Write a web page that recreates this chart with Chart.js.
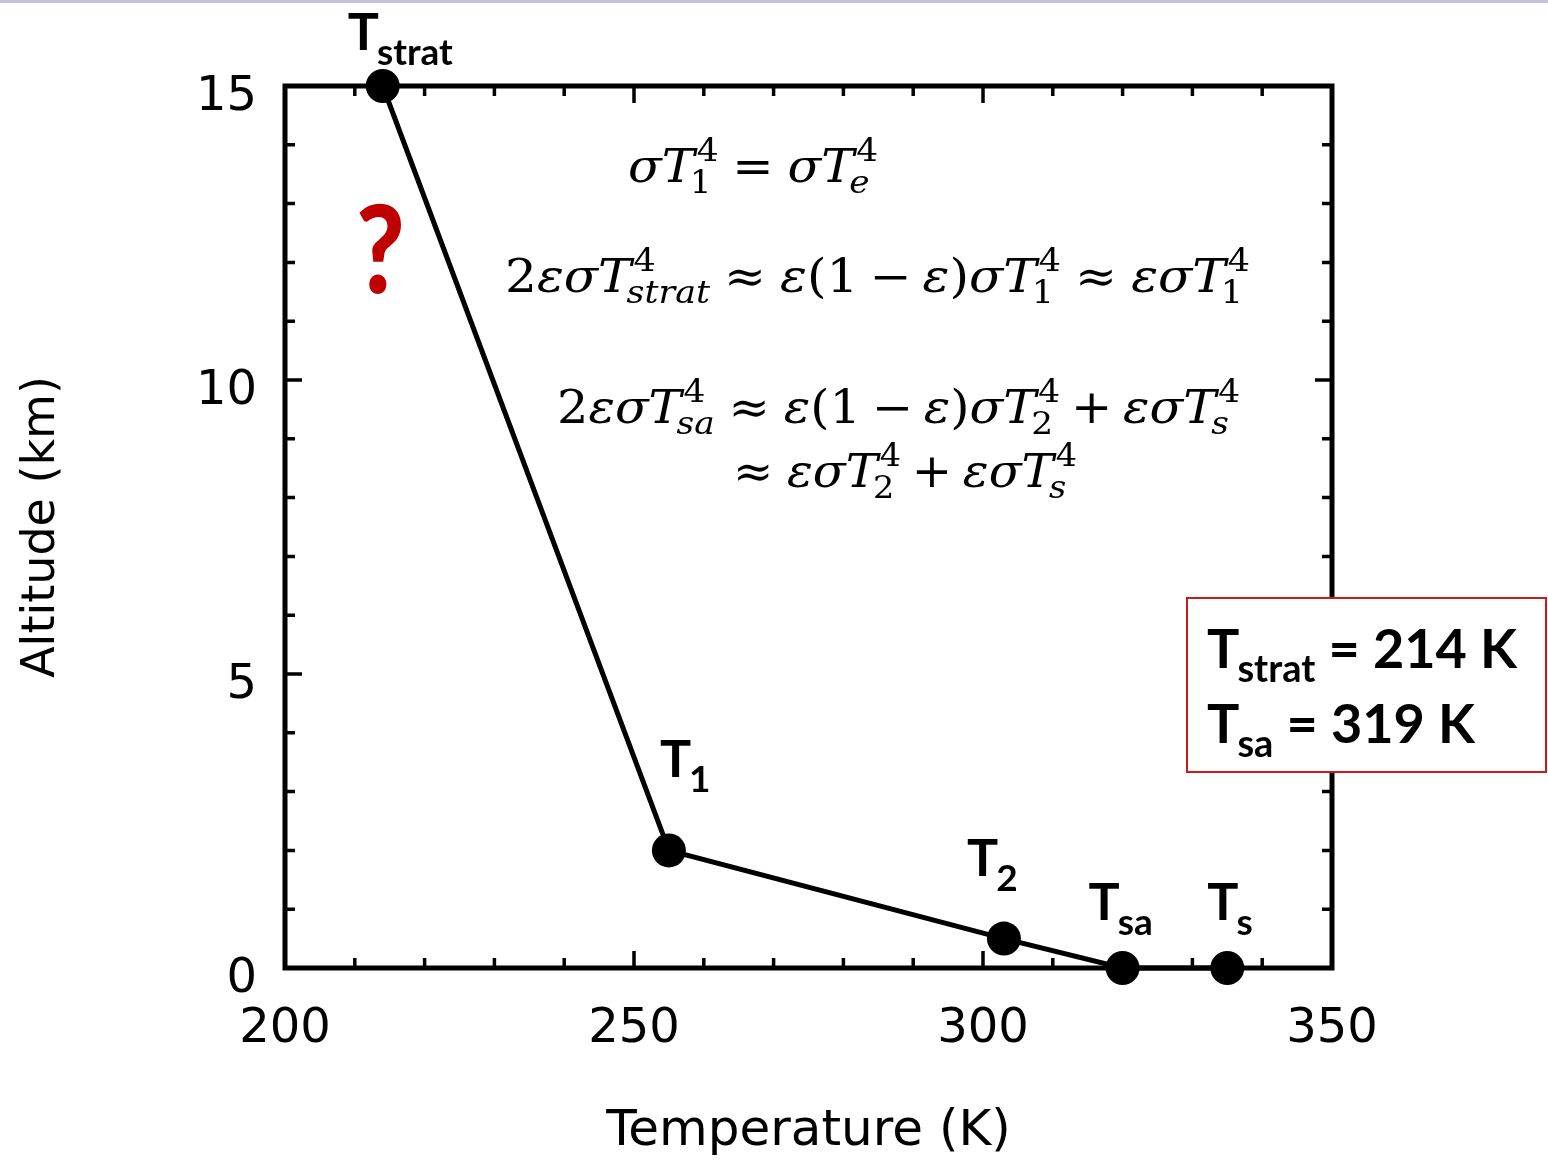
<!DOCTYPE html>
<html><head><meta charset="utf-8">
<script src="https://cdn.jsdelivr.net/npm/chart.js@4.4.1/dist/chart.umd.min.js"></script>
<style>html,body{margin:0;padding:0;background:#fff;overflow:hidden}canvas{display:block}</style>
</head><body><canvas id="c" width="1548" height="1162"></canvas>
<script>
// ---- data ----
const temperatures = [214, 255, 303, 320, 335];
const altitudes    = [15, 2, 0.5, 0, 0];
const pointNames   = [['T','strat'], ['T','1'], ['T','2'], ['T','sa'], ['T','s']];
const xLabelTicks  = [200, 250, 300, 350];
const yLabelTicks  = [0, 5, 10, 15];
const xTitle = 'Temperature (K)';
const yTitle = 'Altitude (km)';
const boxLines = [['T','strat',' = 214 K'], ['T','sa',' = 319 K']];

// ---- label placement (styles/positions) ----
const labelOffsets = [[-35,-36],[-9,-73],[-37,-63],[-34,-48],[-20,-48]];
const LBL_FONT = 'Lato';

// equations: token lists
const I = (t, o) => Object.assign({t, i:true}, o||{});
const N = (t) => ({t});
const G = (g) => ({g});
const R = 0.28, B = 0.22;
const equations = [
  {x:628, y:182, w:250, toks:[I('σ'), I('T',{sup:'4',sub:'1'}), G(R), N('='), G(R), I('σ'), I('T',{sup:'4',sub:'e',subI:true})]},
  {x:505, y:292, w:745, toks:[N('2'), I('εσ'), I('T',{sup:'4',sub:'strat',subI:true}), G(R), N('≈'), G(R), I('ε'), N('(1'), G(B), N('−'), G(B), I('ε'), N(')'), I('σ'), I('T',{sup:'4',sub:'1'}), G(R), N('≈'), G(R), I('εσ'), I('T',{sup:'4',sub:'1'})]},
  {x:557, y:423, w:683, toks:[N('2'), I('εσ'), I('T',{sup:'4',sub:'sa',subI:true}), G(R), N('≈'), G(R), I('ε'), N('(1'), G(B), N('−'), G(B), I('ε'), N(')'), I('σ'), I('T',{sup:'4',sub:'2'}), G(B), N('+'), G(B), I('εσ'), I('T',{sup:'4',sub:'s',subI:true})]},
  {x:733, y:487, w:344, toks:[N('≈'), G(R), I('εσ'), I('T',{sup:'4',sub:'2'}), G(B), N('+'), G(B), I('εσ'), I('T',{sup:'4',sub:'s',subI:true})]}
];
const MATH_FONT = '"DejaVu Serif"';
const MATH_SIZE = 46;

function layoutMath(ctx, toks, size, fam){
  let pos = 0; const items = [];
  for (const tk of toks){
    if (tk.g !== undefined){ pos += tk.g*size; continue; }
    ctx.font = (tk.i?'italic ':'') + size + 'px ' + fam;
    const w = ctx.measureText(tk.t).width;
    items.push({t:tk.t, font:ctx.font, x:pos, dy:0});
    pos += w;
    if (tk.sup || tk.sub){
      const ss = Math.round(size*0.7);
      let a = 0, b = 0;
      if (tk.sup){ ctx.font = ss+'px '+fam; const wsup = ctx.measureText(tk.sup).width; items.push({t:tk.sup, font:ctx.font, x:pos+size*0.04, dy:-size*0.45}); a = wsup+size*0.04; }
      if (tk.sub){ ctx.font = (tk.subI?'italic ':'')+ss+'px '+fam; const wsub = ctx.measureText(tk.sub).width; items.push({t:tk.sub, font:ctx.font, x:pos-size*0.1, dy:size*0.24}); b = wsub-size*0.1; }
      pos += Math.max(a,b);
    }
  }
  return {items, width:pos};
}

const decor = {
  id:'decor',
  beforeDraw(chart){
    const c = chart.ctx; c.save();
    c.fillStyle = '#fff'; c.fillRect(0,0,chart.width,chart.height);
    c.fillStyle = '#cbc0dc'; c.fillRect(0,0,chart.width,3);
    c.restore();
  },
  beforeDatasetsDraw(chart){
    const c = chart.ctx, a = chart.chartArea, sx = chart.scales.x, sy = chart.scales.y;
    c.save();
    c.strokeStyle = '#000'; c.lineWidth = 5;
    c.strokeRect(a.left, a.top, a.right-a.left, a.bottom-a.top);
    c.lineWidth = 3.5;
    c.beginPath();
    for (const t of sx.ticks){
      if (t.value <= sx.min || t.value >= sx.max) continue;
      const px = sx.getPixelForValue(t.value);
      const len = xLabelTicks.includes(t.value) ? 17 : 10;
      c.moveTo(px, a.bottom); c.lineTo(px, a.bottom-len);
      c.moveTo(px, a.top); c.lineTo(px, a.top+len);
    }
    for (const t of sy.ticks){
      if (t.value <= sy.min || t.value >= sy.max) continue;
      const py = sy.getPixelForValue(t.value);
      const len = yLabelTicks.includes(t.value) ? 17 : 10;
      c.moveTo(a.left, py); c.lineTo(a.left+len, py);
      c.moveTo(a.right, py); c.lineTo(a.right-len, py);
    }
    c.stroke();
    c.restore();
  },
  afterDraw(chart){
    const c = chart.ctx, meta = chart.getDatasetMeta(0);
    c.save();
    c.fillStyle = '#000'; c.textBaseline = 'alphabetic'; c.textAlign = 'left';
    // point labels
    meta.data.forEach((el, i) => {
      const [dx, dy] = labelOffsets[i];
      const x = el.x + dx, y = el.y + dy;
      c.font = 'bold 52px ' + LBL_FONT;
      c.fillText(pointNames[i][0], x, y);
      const w = c.measureText(pointNames[i][0]).width;
      c.font = 'bold 37px ' + LBL_FONT;
      c.fillText(pointNames[i][1], x + w - 2, y + 15);
    });
    // equations
    for (const eq of equations){
      const L = layoutMath(c, eq.toks, MATH_SIZE, MATH_FONT);
      const k = eq.w / L.width;
      c.save(); c.translate(eq.x, eq.y); c.scale(k, 1);
      for (const it of L.items){ c.font = it.font; c.fillText(it.t, it.x, it.dy); }
      c.restore();
    }
    // red question mark
    c.save(); c.fillStyle = '#c00000'; c.font = '900 122px ' + LBL_FONT;
    c.translate(356, 293); c.scale(0.86, 1); c.fillText('?', 0, 0); c.restore();
    // box
    c.fillStyle = '#fff'; c.fillRect(1187, 598, 359, 174);
    c.strokeStyle = '#cc1a1a'; c.lineWidth = 2; c.strokeRect(1187, 598, 359, 174);
    c.fillStyle = '#000';
    const baselines = [668, 743];
    boxLines.forEach((ln, i) => {
      let x = 1207; const y = baselines[i];
      c.font = 'bold 54px ' + LBL_FONT; c.fillText(ln[0], x, y); x += c.measureText(ln[0]).width - 2;
      c.font = 'bold 38px ' + LBL_FONT; c.fillText(ln[1], x, y + 14); x += c.measureText(ln[1]).width;
      c.font = 'bold 54px ' + LBL_FONT; c.fillText(ln[2], x, y);
    });
    c.restore();
  }
};

new Chart(document.getElementById('c'), {
  type: 'scatter',
  data: { datasets: [{
    data: temperatures.map((t, i) => ({x: t, y: altitudes[i]})),
    showLine: true, borderColor: '#000', borderWidth: 5, backgroundColor: '#000',
    pointRadius: 17, pointHoverRadius: 17, pointBorderWidth: 0, tension: 0, clip: false
  }]},
  options: {
    responsive: false, animation: false, events: [],
    plugins: { legend: {display: false}, tooltip: {enabled: false} },
    layout: { padding: {top: 86, right: 216, left: 0, bottom: 0} },
    scales: {
      x: {
        type: 'linear', min: 200, max: 350,
        afterFit(s){ s.height = 194; },
        grid: {display: false, drawTicks: false}, border: {display: false},
        ticks: { stepSize: 10, autoSkip: false, maxRotation: 0, padding: 33, color: '#000',
          font: {family: '"DejaVu Sans"', size: 48},
          callback: v => xLabelTicks.includes(v) ? String(v) : '' },
        title: { display: true, text: xTitle, color: '#000', font: {family: '"DejaVu Sans"', size: 50}, padding: {top: 0, bottom: 0} }
      },
      y: {
        type: 'linear', min: 0, max: 15,
        afterFit(s){ s.width = 285; },
        grid: {display: false, drawTicks: false}, border: {display: false},
        ticks: { stepSize: 1, autoSkip: false, padding: 28, labelOffset: 12, color: '#000',
          font: {family: '"DejaVu Sans"', size: 48},
          callback: v => yLabelTicks.includes(v) ? String(v) : '' },
        title: { display: true, text: yTitle, color: '#000', font: {family: '"DejaVu Sans"', size: 46}, padding: {top: 14, bottom: 0} }
      }
    }
  },
  plugins: [decor]
});
</script>
</body></html>
